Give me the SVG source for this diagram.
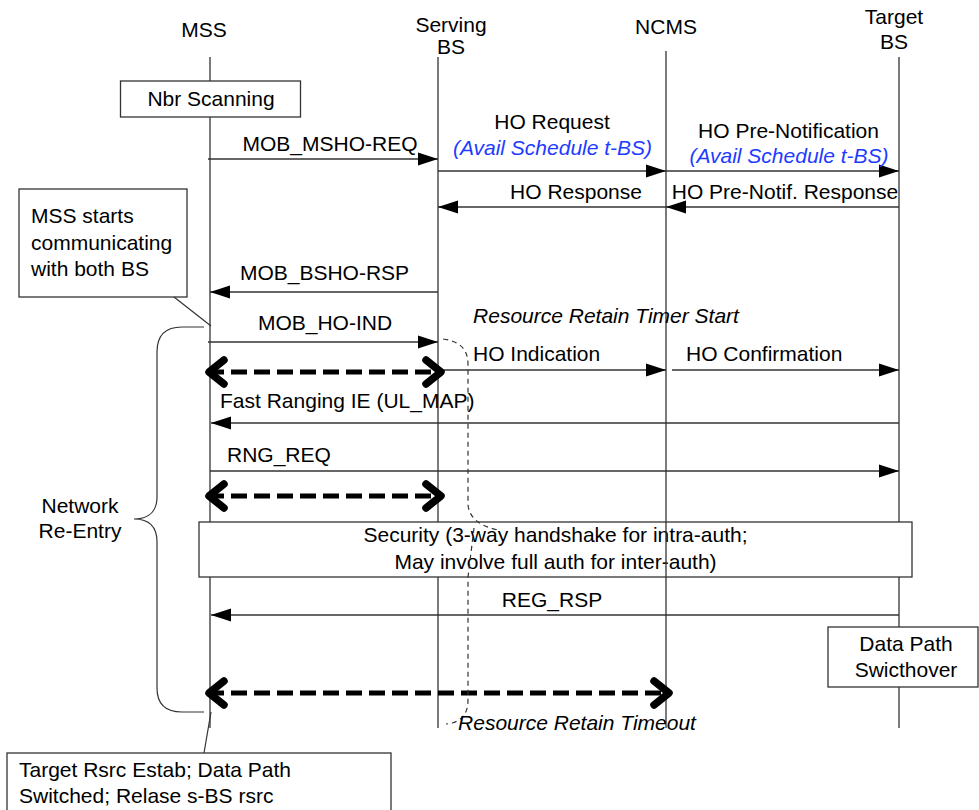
<svg xmlns="http://www.w3.org/2000/svg" width="979" height="810" viewBox="0 0 979 810">
<style>
  text { font-family: "Liberation Sans", Arial, sans-serif; font-size: 21px; fill: #000; }
  .mid { text-anchor: middle; }
  .it { font-style: italic; }
  .blue { fill: #1e3cff; }
  .life { stroke: #333; stroke-width: 1.3; fill: none; }
  .msg { stroke: #333; stroke-width: 1.3; fill: none; marker-end: url(#tri); }
  .box { fill: #fff; stroke: #333; stroke-width: 1.3; }
  .thick { stroke: #000; stroke-width: 5; stroke-dasharray: 16 7; fill: none; marker-start: url(#chev); marker-end: url(#chev); }
  .thin { stroke: #333; stroke-width: 1.2; fill: none; }
  .dash { stroke: #333; stroke-width: 1.2; fill: none; stroke-dasharray: 5 4; }
</style>
<defs>
  <marker id="tri" markerUnits="userSpaceOnUse" viewBox="-21 -8 22 16" refX="0" refY="0" markerWidth="22" markerHeight="16" orient="auto">
    <path d="M-20,-6.5 L0,0 L-20,6.5 Z" fill="#000"/>
  </marker>
  <marker id="chev" markerUnits="userSpaceOnUse" viewBox="-26 -20 32 40" refX="0" refY="0" markerWidth="32" markerHeight="40" orient="auto-start-reverse">
    <path d="M-16,-12 L-1,0 L-16,12" fill="none" stroke="#000" stroke-width="7.5" stroke-linejoin="round" stroke-linecap="round"/>
  </marker>
</defs>

<!-- lifelines (under boxes) -->
<g id="lifelines">
  <g id="mss"><text class="mid" x="204" y="37">MSS</text><line class="life" x1="210" y1="57" x2="210" y2="728"/></g>
  <g id="serving-bs"><text class="mid" x="451" y="32">Serving</text><text class="mid" x="451" y="54">BS</text><line class="life" x1="438" y1="57" x2="438" y2="728"/></g>
  <g id="target-bs"><text class="mid" x="894" y="24">Target</text><text class="mid" x="894" y="49">BS</text><line class="life" x1="899" y1="57" x2="899" y2="728"/></g>
</g>

<g id="nbr-scanning"><rect class="box" x="120.5" y="81" width="180" height="36"/><text class="mid" x="211" y="106">Nbr Scanning</text></g>

<g id="note-both-bs">
  <rect class="box" x="19" y="189" width="168" height="108"/>
  <text x="31" y="223">MSS starts</text>
  <text x="31" y="250">communicating</text>
  <text x="31" y="276">with both BS</text>
</g>

<g id="security">
  <rect class="box" x="199" y="522" width="713" height="55"/>
  <text class="mid" x="555.5" y="542">Security (3-way handshake for intra-auth;</text>
  <text class="mid" x="555.5" y="569">May involve full auth for inter-auth)</text>
</g>

<g id="data-path">
  <rect class="box" x="828" y="627" width="150" height="60"/>
  <text class="mid" x="906" y="651">Data Path</text>
  <text class="mid" x="906" y="677">Swicthover</text>
</g>

<g id="ncms"><text class="mid" x="666" y="34">NCMS</text><line class="life" x1="666" y1="51" x2="666" y2="728"/></g>

<g id="target-rsrc">
  <rect class="box" x="7" y="753" width="384" height="70"/>
  <text x="19" y="777">Target Rsrc Estab; Data Path</text>
  <text x="19" y="803">Switched; Relase s-BS rsrc</text>
</g>

<g id="network-reentry">
  <path class="thin" d="M204,327 H182 Q157,327 157,352 V497 C157,510 150,519 134,519 C150,519 157,528 157,542 V688 Q157,712 182,712 H204"/>
  <text class="mid" x="80" y="513">Network</text>
  <text class="mid" x="80" y="538">Re-Entry</text>
</g>

<g id="connectors">
  <line class="thin" x1="174" y1="297" x2="211" y2="326"/>
  <line class="thin" x1="211" y1="712" x2="204" y2="753"/>

  <line class="msg" x1="208" y1="159" x2="438" y2="159"/>
  <line class="msg" x1="438" y1="171" x2="666" y2="171"/>
  <line class="msg" x1="666" y1="171" x2="899" y2="171"/>
  <line class="msg" x1="899" y1="207" x2="666" y2="207"/>
  <line class="msg" x1="666" y1="207" x2="438" y2="207"/>
  <line class="msg" x1="438" y1="292" x2="210" y2="292"/>
  <line class="msg" x1="208" y1="342" x2="438" y2="342"/>
  <line class="msg" x1="438" y1="370" x2="666" y2="370"/>
  <line class="msg" x1="672" y1="370" x2="899" y2="370"/>
  <line class="msg" x1="899" y1="423" x2="211" y2="423"/>
  <line class="msg" x1="210" y1="471" x2="899" y2="471"/>
  <line class="msg" x1="899" y1="615" x2="211" y2="615"/>

  <line class="thick" x1="208" y1="372" x2="442" y2="372"/>
  <line class="thick" x1="208" y1="496" x2="442" y2="496"/>
  <line class="thick" x1="208" y1="693" x2="670" y2="693"/>

  <path class="dash" d="M443,339 Q468,342 468,364 V505 Q470,524 498,530"/>
  <path class="dash" d="M474,528 L468,577 V700 Q468,722 446,724"/>
</g>

<g id="labels">
  <text class="mid" x="330" y="151">MOB_MSHO-REQ</text>
  <text class="mid" x="552" y="129">HO Request</text>
  <text class="mid it blue" x="552.5" y="155">(Avail Schedule t-BS)</text>
  <text class="mid" x="788.5" y="138">HO Pre-Notification</text>
  <text class="mid it blue" x="789" y="163">(Avail Schedule t-BS)</text>
  <text class="mid" x="576" y="199">HO Response</text>
  <text class="mid" x="785" y="199">HO Pre-Notif. Response</text>
  <text class="mid" x="324.5" y="280">MOB_BSHO-RSP</text>
  <text class="mid" x="325" y="330">MOB_HO-IND</text>
  <text class="mid it" x="606" y="323">Resource Retain Timer Start</text>
  <text x="473" y="361">HO Indication</text>
  <text x="686" y="361">HO Confirmation</text>
  <text x="220" y="408">Fast Ranging IE (UL_MAP)</text>
  <text x="227" y="462">RNG_REQ</text>
  <text class="mid" x="552" y="607">REG_RSP</text>
  <text class="mid it" x="577" y="730">Resource Retain Timeout</text>
</g>
</svg>
